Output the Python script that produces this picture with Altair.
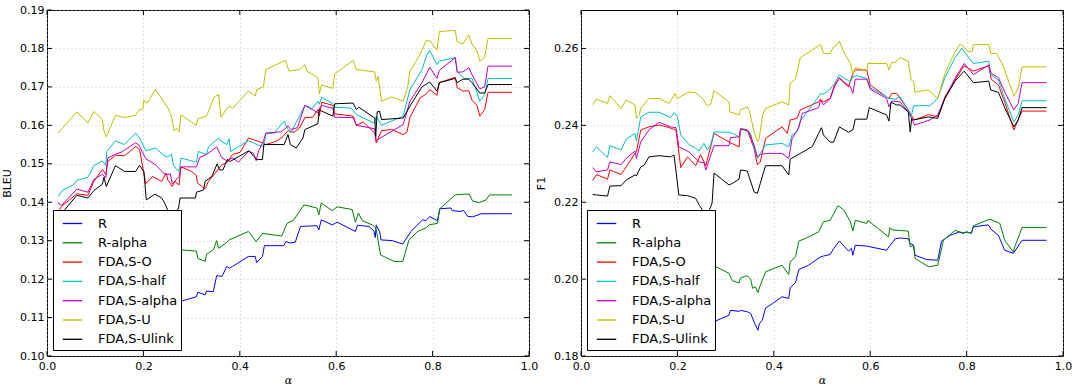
import altair as alt
import pandas as pd

NAMES = ["R", "R-alpha", "FDA,S-O", "FDA,S-half", "FDA,S-alpha", "FDA,S-U", "FDA,S-Ulink"]
COLORS = ["#0000ff", "#008000", "#ff0000", "#00bfbf", "#bf00bf", "#bfbf00", "#000000"]
X_TICKS = [0.0, 0.2, 0.4, 0.6, 0.8, 1.0]
BLEU_TICKS = [0.10, 0.11, 0.12, 0.13, 0.14, 0.15, 0.16, 0.17, 0.18, 0.19]
F1_TICKS = [0.18, 0.20, 0.22, 0.24, 0.26]

# ---------------- BLEU panel ----------------
bleu_R_x = [0.023, 0.08, 0.15, 0.2, 0.25, 0.279, 0.31, 0.313, 0.328, 0.331, 0.345, 0.352, 0.363, 0.373, 0.378, 0.385, 0.418, 0.432, 0.435, 0.447, 0.451, 0.491, 0.496, 0.503, 0.515, 0.526, 0.56, 0.564, 0.569, 0.592, 0.602, 0.64, 0.644, 0.668, 0.678, 0.681, 0.683, 0.69, 0.693, 0.717, 0.738, 0.755, 0.779, 0.786, 0.794, 0.81, 0.815, 0.838, 0.841, 0.859, 0.864, 0.873, 0.883, 0.901, 0.965]
bleu_R_y = [0.106, 0.108, 0.110, 0.112, 0.113, 0.1143, 0.1154, 0.1166, 0.1159, 0.1169, 0.1167, 0.1209, 0.1207, 0.1233, 0.1228, 0.1233, 0.1259, 0.1259, 0.1243, 0.1259, 0.1287, 0.1287, 0.1298, 0.1294, 0.1296, 0.1337, 0.1339, 0.1328, 0.1354, 0.1341, 0.1348, 0.1324, 0.134, 0.1337, 0.1326, 0.1308, 0.1341, 0.1324, 0.1302, 0.13, 0.1291, 0.1324, 0.1354, 0.1352, 0.1363, 0.1352, 0.1383, 0.1385, 0.1378, 0.1376, 0.1379, 0.1363, 0.1362, 0.137, 0.137]

bleu_Ra_x = [0.023, 0.1, 0.2, 0.279, 0.31, 0.313, 0.328, 0.331, 0.345, 0.352, 0.356, 0.373, 0.378, 0.418, 0.434, 0.447, 0.487, 0.498, 0.512, 0.533, 0.56, 0.564, 0.569, 0.592, 0.602, 0.633, 0.64, 0.646, 0.654, 0.675, 0.682, 0.685, 0.692, 0.72, 0.738, 0.751, 0.769, 0.786, 0.793, 0.81, 0.815, 0.847, 0.863, 0.876, 0.883, 0.897, 0.911, 0.918, 0.965]
bleu_Ra_y = [0.118, 0.121, 0.124, 0.1276, 0.1273, 0.1254, 0.1246, 0.1265, 0.1276, 0.13, 0.128, 0.1296, 0.1302, 0.1324, 0.1297, 0.1319, 0.1312, 0.1345, 0.1354, 0.1393, 0.1385, 0.1367, 0.1398, 0.1378, 0.1388, 0.1381, 0.1348, 0.1372, 0.1352, 0.1341, 0.1333, 0.1315, 0.1263, 0.1246, 0.1246, 0.1302, 0.1324, 0.1333, 0.1341, 0.1345, 0.1383, 0.1419, 0.1421, 0.1421, 0.1403, 0.1399, 0.1406, 0.1419, 0.1419]

bleu_SO_x = [0.023, 0.03, 0.062, 0.085, 0.097, 0.115, 0.122, 0.126, 0.142, 0.161, 0.184, 0.192, 0.205, 0.219, 0.238, 0.247, 0.251, 0.26, 0.265, 0.274, 0.278, 0.3, 0.31, 0.312, 0.328, 0.335, 0.349, 0.363, 0.373, 0.385, 0.401, 0.418, 0.449, 0.454, 0.475, 0.49, 0.5, 0.513, 0.524, 0.535, 0.551, 0.562, 0.565, 0.57, 0.593, 0.597, 0.635, 0.642, 0.656, 0.68, 0.683, 0.694, 0.715, 0.739, 0.747, 0.753, 0.774, 0.787, 0.794, 0.809, 0.814, 0.847, 0.851, 0.863, 0.875, 0.882, 0.892, 0.898, 0.908, 0.915, 0.965]
bleu_SO_y = [0.1374, 0.1389, 0.1422, 0.1418, 0.1454, 0.1485, 0.1472, 0.1506, 0.1522, 0.1521, 0.1545, 0.1537, 0.1448, 0.1467, 0.1454, 0.1476, 0.1457, 0.1441, 0.1454, 0.1445, 0.1492, 0.148, 0.147, 0.145, 0.1435, 0.1454, 0.1476, 0.1498, 0.1502, 0.1524, 0.153, 0.1567, 0.1554, 0.155, 0.1558, 0.1571, 0.1586, 0.1582, 0.1593, 0.162, 0.1621, 0.1641, 0.1624, 0.166, 0.1652, 0.163, 0.1624, 0.16, 0.1609, 0.158, 0.1554, 0.1586, 0.1589, 0.1576, 0.1583, 0.1621, 0.1671, 0.1682, 0.1693, 0.1678, 0.1711, 0.1725, 0.1698, 0.1689, 0.169, 0.1665, 0.1652, 0.1624, 0.1641, 0.1686, 0.1686]

bleu_Sh_x = [0.023, 0.033, 0.055, 0.062, 0.085, 0.097, 0.115, 0.122, 0.124, 0.142, 0.16, 0.184, 0.192, 0.205, 0.225, 0.243, 0.251, 0.258, 0.262, 0.269, 0.274, 0.278, 0.31, 0.314, 0.331, 0.335, 0.356, 0.361, 0.373, 0.378, 0.381, 0.418, 0.439, 0.449, 0.454, 0.471, 0.492, 0.499, 0.505, 0.524, 0.535, 0.548, 0.562, 0.565, 0.57, 0.593, 0.597, 0.631, 0.642, 0.68, 0.683, 0.694, 0.739, 0.753, 0.778, 0.787, 0.794, 0.809, 0.814, 0.847, 0.851, 0.865, 0.882, 0.898, 0.908, 0.915, 0.965]
bleu_Sh_y = [0.1415, 0.1432, 0.1445, 0.1457, 0.1465, 0.1495, 0.1508, 0.1495, 0.1532, 0.156, 0.155, 0.158, 0.1567, 0.1534, 0.1541, 0.1521, 0.1518, 0.1525, 0.1498, 0.1485, 0.148, 0.1515, 0.1504, 0.1532, 0.1524, 0.1544, 0.1567, 0.1559, 0.155, 0.1565, 0.1532, 0.156, 0.1548, 0.1545, 0.1578, 0.158, 0.1611, 0.1592, 0.158, 0.1624, 0.1652, 0.1641, 0.1663, 0.1655, 0.1673, 0.1656, 0.1647, 0.1645, 0.1628, 0.1605, 0.1624, 0.16, 0.1624, 0.1693, 0.1745, 0.178, 0.1795, 0.1758, 0.1767, 0.1776, 0.1741, 0.1722, 0.1722, 0.1663, 0.168, 0.1722, 0.1722]

bleu_Sa_x = [0.023, 0.03, 0.062, 0.085, 0.097, 0.115, 0.122, 0.126, 0.142, 0.154, 0.184, 0.191, 0.205, 0.225, 0.243, 0.251, 0.256, 0.26, 0.274, 0.278, 0.31, 0.317, 0.331, 0.352, 0.363, 0.373, 0.385, 0.397, 0.418, 0.428, 0.434, 0.439, 0.449, 0.454, 0.485, 0.492, 0.5, 0.506, 0.52, 0.524, 0.535, 0.544, 0.562, 0.565, 0.57, 0.593, 0.597, 0.635, 0.642, 0.68, 0.683, 0.694, 0.739, 0.753, 0.778, 0.794, 0.809, 0.814, 0.847, 0.851, 0.863, 0.875, 0.882, 0.898, 0.908, 0.915, 0.965]
bleu_Sa_y = [0.1398, 0.1392, 0.1434, 0.1426, 0.1459, 0.1473, 0.1463, 0.1515, 0.1525, 0.153, 0.1555, 0.1548, 0.1513, 0.1498, 0.1474, 0.1472, 0.1474, 0.1447, 0.1467, 0.1492, 0.1492, 0.1517, 0.1524, 0.1544, 0.1515, 0.1508, 0.1515, 0.1504, 0.1532, 0.1528, 0.1508, 0.1534, 0.1558, 0.158, 0.1583, 0.1589, 0.1598, 0.1589, 0.1594, 0.1611, 0.1652, 0.1647, 0.1632, 0.1645, 0.1652, 0.1644, 0.1621, 0.162, 0.16, 0.1591, 0.156, 0.1569, 0.1602, 0.1663, 0.1711, 0.1751, 0.1722, 0.1743, 0.1776, 0.1738, 0.1739, 0.175, 0.1731, 0.1695, 0.17, 0.1754, 0.1754]

bleu_SU_x = [0.023, 0.062, 0.085, 0.097, 0.115, 0.118, 0.123, 0.142, 0.161, 0.184, 0.191, 0.199, 0.201, 0.208, 0.225, 0.251, 0.258, 0.264, 0.269, 0.274, 0.278, 0.31, 0.313, 0.331, 0.347, 0.356, 0.361, 0.373, 0.378, 0.385, 0.418, 0.432, 0.435, 0.449, 0.454, 0.495, 0.502, 0.524, 0.529, 0.535, 0.539, 0.562, 0.565, 0.57, 0.593, 0.597, 0.635, 0.642, 0.68, 0.683, 0.687, 0.694, 0.715, 0.739, 0.748, 0.753, 0.774, 0.787, 0.795, 0.809, 0.814, 0.847, 0.851, 0.863, 0.875, 0.882, 0.892, 0.898, 0.908, 0.915, 0.965]
bleu_SU_y = [0.158, 0.1635, 0.1606, 0.1636, 0.1615, 0.1586, 0.157, 0.1626, 0.162, 0.1626, 0.164, 0.1642, 0.1665, 0.1658, 0.1693, 0.1645, 0.1624, 0.1586, 0.1592, 0.1583, 0.1627, 0.160, 0.1617, 0.1624, 0.1674, 0.168, 0.1621, 0.1644, 0.165, 0.1644, 0.1689, 0.1676, 0.1693, 0.170, 0.1745, 0.1769, 0.1741, 0.1745, 0.1751, 0.1757, 0.1741, 0.1724, 0.1682, 0.1705, 0.1696, 0.1734, 0.1769, 0.1745, 0.1739, 0.1715, 0.1728, 0.1663, 0.1674, 0.1663, 0.1698, 0.1741, 0.1784, 0.1821, 0.1819, 0.1795, 0.1844, 0.1847, 0.1817, 0.1812, 0.1835, 0.1811, 0.1795, 0.1767, 0.1777, 0.1826, 0.1826]

bleu_SUl_x = [0.023, 0.035, 0.062, 0.085, 0.097, 0.115, 0.118, 0.123, 0.142, 0.161, 0.184, 0.192, 0.201, 0.206, 0.224, 0.238, 0.244, 0.251, 0.262, 0.273, 0.276, 0.308, 0.31, 0.325, 0.328, 0.342, 0.353, 0.358, 0.365, 0.374, 0.38, 0.398, 0.419, 0.429, 0.436, 0.447, 0.45, 0.492, 0.5, 0.505, 0.517, 0.531, 0.535, 0.562, 0.565, 0.57, 0.593, 0.597, 0.635, 0.642, 0.647, 0.68, 0.682, 0.685, 0.69, 0.694, 0.739, 0.753, 0.778, 0.794, 0.809, 0.814, 0.847, 0.851, 0.863, 0.875, 0.882, 0.898, 0.908, 0.915, 0.965]
bleu_SUl_y = [0.1355, 0.1378, 0.1418, 0.1411, 0.143, 0.1447, 0.1465, 0.1441, 0.1495, 0.148, 0.148, 0.1496, 0.148, 0.1406, 0.1421, 0.1411, 0.1398, 0.1378, 0.136, 0.1385, 0.1411, 0.1411, 0.1426, 0.1432, 0.1454, 0.1467, 0.15, 0.1484, 0.1484, 0.1511, 0.1506, 0.1519, 0.1534, 0.1519, 0.1511, 0.1511, 0.155, 0.155, 0.1576, 0.155, 0.1541, 0.1567, 0.1589, 0.1604, 0.1641, 0.1637, 0.1624, 0.1656, 0.1658, 0.1641, 0.1647, 0.1619, 0.1571, 0.1635, 0.1637, 0.1615, 0.1619, 0.165, 0.17, 0.1713, 0.1689, 0.1711, 0.1722, 0.1711, 0.172, 0.172, 0.1711, 0.1684, 0.1684, 0.1706, 0.1706]

# ---------------- F1 panel ----------------
f1_R_x = [0.024, 0.1, 0.2, 0.27, 0.279, 0.307, 0.31, 0.328, 0.331, 0.345, 0.352, 0.359, 0.367, 0.37, 0.376, 0.383, 0.397, 0.417, 0.431, 0.434, 0.445, 0.452, 0.472, 0.497, 0.503, 0.517, 0.524, 0.536, 0.555, 0.561, 0.564, 0.569, 0.593, 0.6, 0.634, 0.639, 0.652, 0.662, 0.679, 0.683, 0.69, 0.693, 0.717, 0.74, 0.748, 0.766, 0.786, 0.793, 0.8, 0.81, 0.814, 0.845, 0.852, 0.866, 0.879, 0.897, 0.915, 0.966]
f1_R_y = [0.186, 0.1865, 0.187, 0.1885, 0.1891, 0.1906, 0.1919, 0.1916, 0.1919, 0.1915, 0.1911, 0.1889, 0.1867, 0.1884, 0.1893, 0.1925, 0.1936, 0.1954, 0.195, 0.1977, 0.1991, 0.2025, 0.2036, 0.2058, 0.206, 0.2064, 0.2079, 0.2099, 0.2073, 0.208, 0.2062, 0.2088, 0.2086, 0.2084, 0.2075, 0.2084, 0.2105, 0.2107, 0.2105, 0.2093, 0.2088, 0.2062, 0.2051, 0.2049, 0.2099, 0.2114, 0.2123, 0.2119, 0.2123, 0.2119, 0.2136, 0.2141, 0.2128, 0.2114, 0.2075, 0.2067, 0.2101, 0.2101]

f1_Ra_x = [0.024, 0.15, 0.27, 0.279, 0.307, 0.314, 0.328, 0.331, 0.345, 0.352, 0.356, 0.362, 0.367, 0.372, 0.383, 0.417, 0.431, 0.434, 0.445, 0.452, 0.466, 0.493, 0.503, 0.517, 0.533, 0.545, 0.559, 0.564, 0.569, 0.593, 0.595, 0.638, 0.641, 0.645, 0.679, 0.683, 0.69, 0.693, 0.721, 0.74, 0.752, 0.776, 0.79, 0.797, 0.81, 0.814, 0.848, 0.869, 0.879, 0.897, 0.9, 0.915, 0.966]
f1_Ra_y = [0.198, 0.2, 0.2025, 0.2033, 0.2015, 0.1996, 0.199, 0.2003, 0.2009, 0.2, 0.1976, 0.198, 0.1965, 0.1984, 0.2019, 0.2036, 0.2012, 0.2045, 0.2058, 0.2099, 0.2106, 0.2123, 0.2149, 0.2153, 0.2191, 0.218, 0.2149, 0.2125, 0.2153, 0.2145, 0.2153, 0.211, 0.2134, 0.2128, 0.2125, 0.2084, 0.2088, 0.2054, 0.2032, 0.2036, 0.2101, 0.2127, 0.212, 0.2122, 0.212, 0.2139, 0.2156, 0.2145, 0.2101, 0.2071, 0.2084, 0.2134, 0.2134]

f1_SO_x = [0.024, 0.032, 0.055, 0.06, 0.083, 0.094, 0.112, 0.115, 0.124, 0.141, 0.162, 0.183, 0.197, 0.207, 0.221, 0.238, 0.248, 0.259, 0.276, 0.307, 0.309, 0.328, 0.331, 0.345, 0.359, 0.366, 0.372, 0.383, 0.417, 0.428, 0.434, 0.448, 0.455, 0.493, 0.497, 0.503, 0.517, 0.526, 0.536, 0.555, 0.564, 0.569, 0.593, 0.6, 0.634, 0.639, 0.645, 0.655, 0.679, 0.685, 0.692, 0.721, 0.74, 0.755, 0.776, 0.795, 0.814, 0.846, 0.851, 0.866, 0.879, 0.898, 0.907, 0.915, 0.966]
f1_SO_y = [0.2256, 0.2272, 0.226, 0.2284, 0.2272, 0.2292, 0.2327, 0.2331, 0.2388, 0.2396, 0.2401, 0.2394, 0.2388, 0.229, 0.2318, 0.2295, 0.2324, 0.2295, 0.2379, 0.2357, 0.2355, 0.2344, 0.2392, 0.2388, 0.234, 0.2297, 0.2305, 0.2366, 0.2396, 0.2379, 0.2414, 0.2418, 0.244, 0.2461, 0.2468, 0.2461, 0.247, 0.2505, 0.2522, 0.25, 0.2535, 0.2544, 0.2544, 0.2505, 0.2474, 0.247, 0.2483, 0.2483, 0.244, 0.2427, 0.2414, 0.2428, 0.2422, 0.2474, 0.2518, 0.2555, 0.2541, 0.2555, 0.252, 0.2505, 0.2461, 0.2388, 0.2414, 0.2437, 0.2437]

f1_Sh_x = [0.024, 0.032, 0.055, 0.06, 0.083, 0.094, 0.112, 0.115, 0.124, 0.141, 0.162, 0.186, 0.193, 0.2, 0.207, 0.224, 0.238, 0.245, 0.255, 0.262, 0.269, 0.276, 0.307, 0.314, 0.328, 0.333, 0.352, 0.359, 0.366, 0.372, 0.383, 0.417, 0.431, 0.438, 0.448, 0.455, 0.486, 0.497, 0.503, 0.517, 0.526, 0.536, 0.545, 0.559, 0.564, 0.572, 0.593, 0.6, 0.634, 0.639, 0.652, 0.662, 0.679, 0.685, 0.69, 0.724, 0.74, 0.755, 0.776, 0.79, 0.8, 0.814, 0.846, 0.85, 0.866, 0.879, 0.898, 0.907, 0.915, 0.966]
f1_Sh_y = [0.233, 0.2344, 0.2316, 0.2347, 0.2336, 0.2364, 0.2379, 0.2359, 0.2422, 0.2434, 0.2434, 0.242, 0.2433, 0.2423, 0.2375, 0.235, 0.234, 0.2333, 0.2353, 0.2336, 0.2349, 0.2383, 0.2382, 0.2379, 0.237, 0.2392, 0.2379, 0.234, 0.2314, 0.2327, 0.2349, 0.2353, 0.2344, 0.2375, 0.2383, 0.2411, 0.2463, 0.2483, 0.2481, 0.2494, 0.2509, 0.2531, 0.2524, 0.2513, 0.2526, 0.2529, 0.2522, 0.2498, 0.2474, 0.247, 0.2468, 0.2474, 0.244, 0.2422, 0.2451, 0.2451, 0.247, 0.2524, 0.2576, 0.26, 0.2583, 0.2561, 0.2567, 0.2532, 0.2518, 0.247, 0.2409, 0.2427, 0.2464, 0.2464]

f1_Sa_x = [0.024, 0.032, 0.055, 0.06, 0.083, 0.094, 0.112, 0.115, 0.124, 0.141, 0.162, 0.186, 0.197, 0.203, 0.224, 0.245, 0.255, 0.259, 0.276, 0.307, 0.31, 0.328, 0.331, 0.347, 0.359, 0.366, 0.372, 0.383, 0.417, 0.431, 0.438, 0.452, 0.459, 0.493, 0.497, 0.503, 0.517, 0.526, 0.536, 0.545, 0.559, 0.564, 0.569, 0.593, 0.6, 0.634, 0.639, 0.645, 0.662, 0.679, 0.686, 0.692, 0.724, 0.74, 0.755, 0.776, 0.795, 0.814, 0.846, 0.851, 0.866, 0.879, 0.898, 0.907, 0.915, 0.966]
f1_Sa_y = [0.229, 0.2279, 0.2284, 0.2305, 0.2298, 0.2314, 0.2333, 0.2314, 0.2357, 0.2388, 0.2408, 0.2396, 0.2394, 0.2344, 0.2331, 0.2305, 0.2303, 0.2284, 0.2347, 0.2347, 0.2368, 0.237, 0.239, 0.2386, 0.2349, 0.2318, 0.2324, 0.2327, 0.2327, 0.2314, 0.2366, 0.2394, 0.2431, 0.2446, 0.2466, 0.2453, 0.247, 0.25, 0.2524, 0.2513, 0.25, 0.2483, 0.252, 0.252, 0.2494, 0.247, 0.2448, 0.2463, 0.2461, 0.2435, 0.2418, 0.2401, 0.2414, 0.2427, 0.247, 0.2522, 0.2561, 0.2532, 0.2557, 0.2535, 0.2524, 0.2487, 0.244, 0.2457, 0.2511, 0.2511]

f1_SU_x = [0.024, 0.032, 0.055, 0.06, 0.083, 0.094, 0.112, 0.115, 0.121, 0.124, 0.141, 0.162, 0.183, 0.195, 0.2, 0.224, 0.238, 0.252, 0.262, 0.269, 0.276, 0.307, 0.309, 0.328, 0.331, 0.345, 0.35, 0.359, 0.366, 0.369, 0.377, 0.383, 0.417, 0.431, 0.434, 0.445, 0.455, 0.497, 0.503, 0.517, 0.524, 0.531, 0.536, 0.545, 0.559, 0.564, 0.569, 0.576, 0.593, 0.595, 0.634, 0.639, 0.645, 0.652, 0.662, 0.679, 0.685, 0.69, 0.693, 0.717, 0.724, 0.74, 0.755, 0.776, 0.786, 0.793, 0.803, 0.812, 0.814, 0.846, 0.85, 0.862, 0.872, 0.879, 0.898, 0.907, 0.915, 0.966]
f1_SU_y = [0.2454, 0.2468, 0.2457, 0.2477, 0.2444, 0.2466, 0.2453, 0.2418, 0.2427, 0.2444, 0.247, 0.247, 0.2457, 0.2483, 0.247, 0.2487, 0.2485, 0.247, 0.2451, 0.2455, 0.249, 0.2461, 0.2435, 0.2427, 0.244, 0.2448, 0.2435, 0.2383, 0.2359, 0.2361, 0.2427, 0.2444, 0.2461, 0.2453, 0.2509, 0.252, 0.2576, 0.261, 0.2587, 0.2587, 0.2604, 0.2609, 0.2619, 0.2591, 0.2561, 0.2532, 0.255, 0.2548, 0.2541, 0.2561, 0.2561, 0.2544, 0.2564, 0.2564, 0.2576, 0.2567, 0.2518, 0.2514, 0.2486, 0.2492, 0.2488, 0.247, 0.2535, 0.2591, 0.261, 0.2607, 0.2591, 0.2593, 0.261, 0.261, 0.2587, 0.2587, 0.2565, 0.2544, 0.2476, 0.2496, 0.2552, 0.2552]

f1_SUl_x = [0.024, 0.032, 0.055, 0.06, 0.083, 0.094, 0.112, 0.115, 0.124, 0.131, 0.141, 0.162, 0.186, 0.193, 0.203, 0.221, 0.238, 0.245, 0.252, 0.262, 0.272, 0.276, 0.307, 0.314, 0.328, 0.331, 0.345, 0.359, 0.366, 0.372, 0.377, 0.383, 0.417, 0.431, 0.434, 0.455, 0.48, 0.493, 0.499, 0.503, 0.517, 0.524, 0.536, 0.555, 0.564, 0.569, 0.593, 0.598, 0.634, 0.639, 0.643, 0.655, 0.662, 0.679, 0.683, 0.686, 0.69, 0.721, 0.74, 0.755, 0.776, 0.795, 0.814, 0.846, 0.85, 0.866, 0.879, 0.898, 0.907, 0.915, 0.966]
f1_SUl_y = [0.222, 0.2219, 0.2216, 0.2242, 0.2243, 0.2258, 0.2271, 0.2269, 0.2292, 0.2296, 0.2318, 0.2321, 0.2318, 0.2323, 0.2219, 0.2217, 0.221, 0.2193, 0.218, 0.2165, 0.2198, 0.2276, 0.2245, 0.2249, 0.226, 0.2284, 0.2281, 0.2227, 0.2223, 0.2249, 0.2271, 0.2295, 0.2295, 0.2271, 0.2312, 0.2327, 0.2345, 0.2379, 0.2394, 0.2375, 0.2356, 0.2356, 0.2396, 0.2382, 0.2388, 0.2416, 0.2416, 0.2446, 0.2427, 0.2411, 0.246, 0.2453, 0.2453, 0.2435, 0.2383, 0.2418, 0.2414, 0.2422, 0.2418, 0.247, 0.2515, 0.2541, 0.2511, 0.2515, 0.2492, 0.2486, 0.2446, 0.2396, 0.2414, 0.2446, 0.2446]

BLEU_SERIES = [(bleu_R_x, bleu_R_y), (bleu_Ra_x, bleu_Ra_y), (bleu_SO_x, bleu_SO_y), (bleu_Sh_x, bleu_Sh_y),
               (bleu_Sa_x, bleu_Sa_y), (bleu_SU_x, bleu_SU_y), (bleu_SUl_x, bleu_SUl_y)]
F1_SERIES = [(f1_R_x, f1_R_y), (f1_Ra_x, f1_Ra_y), (f1_SO_x, f1_SO_y), (f1_Sh_x, f1_Sh_y),
             (f1_Sa_x, f1_Sa_y), (f1_SU_x, f1_SU_y), (f1_SUl_x, f1_SUl_y)]

W, H = 482, 346
TICK = 5
FONT = "DejaVu Sans"


def panel(series, ydom, yticks, yfmt, ytitle):
    xscale = alt.Scale(domain=[0, 1], nice=False, zero=False)
    yscale = alt.Scale(domain=ydom, nice=False, zero=False)
    xaxis = alt.Axis(values=X_TICKS, format=".1f", title="α", labelPadding=4, labelFlush=False,
                     labelOverlap=False,
                     titleFont="DejaVu Serif", titleFontStyle="italic", titleFontWeight="normal",
                     titleFontSize=11, titlePadding=3)
    yaxis = alt.Axis(values=yticks, format=yfmt, title=ytitle, labelPadding=3, labelFlush=False,
                     labelOverlap=False,
                     titleFontWeight="normal", titleFontSize=11, titlePadding=7)
    legend = alt.Legend(orient="bottom-left", offset=6, title=None, fillColor="white",
                        strokeColor="black", padding=3, symbolType="stroke", symbolSize=380,
                        symbolStrokeWidth=1.3, symbolOffset=6, labelOffset=15,
                        labelFont=FONT, labelFontSize=13, labelColor="black",
                        rowPadding=1.3, cornerRadius=0)
    color = alt.Color("series:N", scale=alt.Scale(domain=NAMES, range=COLORS), legend=legend)
    layers = []
    for name, (xs, ys) in zip(NAMES, series):
        df = pd.DataFrame({"x": xs, "y": ys, "series": name})
        layers.append(
            alt.Chart(df).mark_line(strokeWidth=1, clip=True).encode(
                x=alt.X("x:Q", scale=xscale, axis=xaxis),
                y=alt.Y("y:Q", scale=yscale, axis=yaxis),
                color=color,
            )
        )
    xt = pd.DataFrame({"x": X_TICKS})
    yt = pd.DataFrame({"y": yticks})
    tick_style = dict(color="black", strokeWidth=1)
    layers.append(alt.Chart(xt).mark_rule(**tick_style).encode(
        x=alt.X("x:Q", scale=xscale, axis=xaxis), y=alt.value(0), y2=alt.value(TICK)))
    layers.append(alt.Chart(xt).mark_rule(**tick_style).encode(
        x=alt.X("x:Q", scale=xscale, axis=xaxis), y=alt.value(H), y2=alt.value(H - TICK)))
    layers.append(alt.Chart(yt).mark_rule(**tick_style).encode(
        y=alt.Y("y:Q", scale=yscale, axis=yaxis), x=alt.value(0), x2=alt.value(TICK)))
    layers.append(alt.Chart(yt).mark_rule(**tick_style).encode(
        y=alt.Y("y:Q", scale=yscale, axis=yaxis), x=alt.value(W), x2=alt.value(W - TICK)))
    return alt.layer(*layers).properties(width=W, height=H)


left = panel(BLEU_SERIES, [0.10, 0.19], BLEU_TICKS, ".2f", "BLEU")
right = panel(F1_SERIES, [0.18, 0.27], F1_TICKS, ".2f", "F1")

chart = alt.hconcat(left, right, spacing=52, bounds="flush").resolve_scale(
    x="independent", y="independent", color="independent"
).resolve_legend(color="independent").properties(
    padding={"left": 1, "top": 3, "right": 0, "bottom": 0}
).configure(font=FONT).configure_view(
    stroke="black", strokeWidth=1
).configure_axis(
    labelFont=FONT, labelFontSize=11, labelColor="black", titleFont=FONT, titleColor="black",
    grid=True, gridColor="#b5b5b5", gridDash=[1, 3], gridWidth=0.8,
    ticks=False, domain=False
)

chart.save("out.html", embed_options={"renderer": "svg", "actions": False})
